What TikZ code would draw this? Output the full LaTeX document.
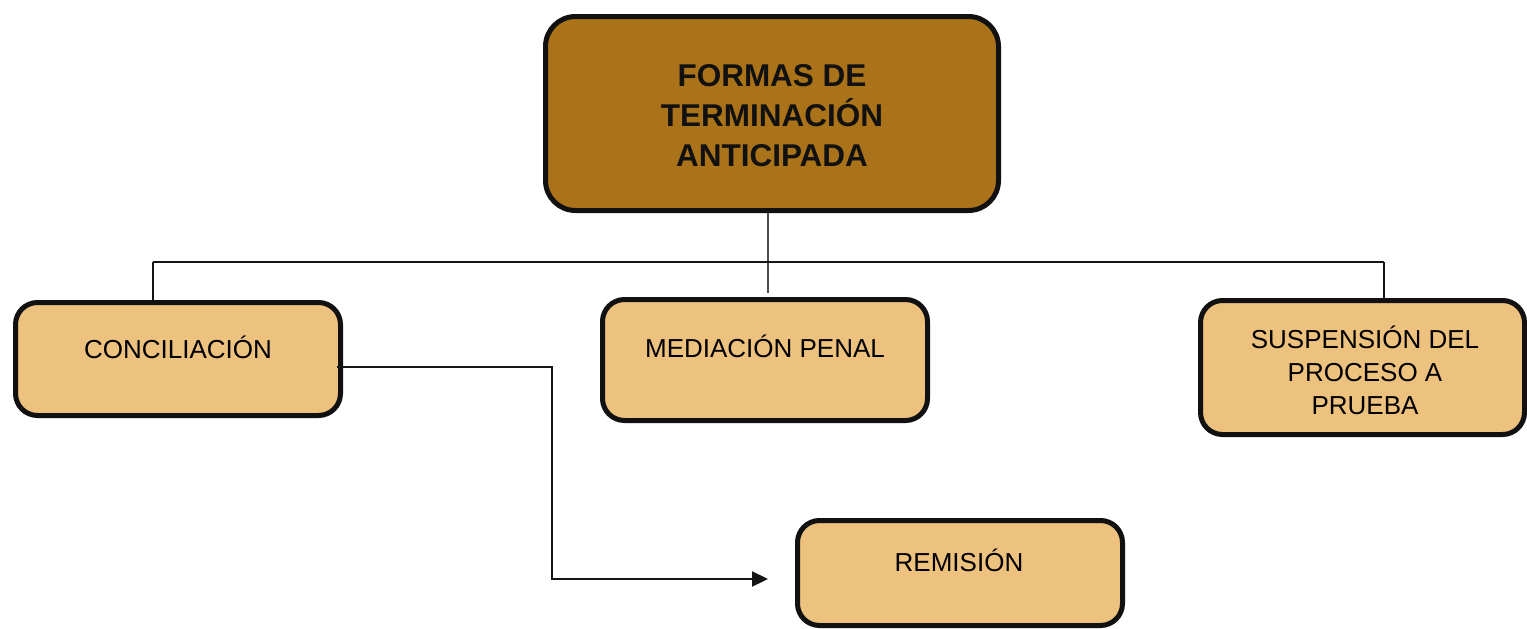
\documentclass[tikz,border=0pt]{standalone}
\usepackage{fontspec}
\setmainfont{Liberation Sans}
\usetikzlibrary{arrows.meta,calc}
\definecolor{titlefill}{HTML}{AA7219}
\definecolor{subfill}{HTML}{EDC17E}
\definecolor{edge}{HTML}{111111}
\definecolor{connc}{HTML}{151515}
\tikzset{
  box/.style={draw=edge, line width=5pt, rounded corners=22pt, rectangle, inner sep=0pt},
  titlebox/.style={box, fill=titlefill, rounded corners=30pt},
  subbox/.style={box, fill=subfill},
  titletext/.style={align=center, font=\fontsize{31.5}{40}\selectfont\bfseries, text=edge, inner sep=0pt},
  subtext/.style={align=center, font=\fontsize{26}{33}\selectfont, text=black, inner sep=0pt},
  conn/.style={draw=connc, line width=2.3pt},
  arr/.style={conn, -{Triangle[length=16pt,width=15pt]}}
}
\begin{document}
\begin{tikzpicture}[x=1pt,y=-1pt]
\useasboundingbox (0,0) rectangle (1527,629);
% boxes
\node[titlebox, minimum width=453pt, minimum height=194pt] (title) at (772,113.5) {};
\node[titletext] (titlet) at (772,116) {FORMAS DE\\TERMINACIÓN\\ANTICIPADA};
\node[subbox, minimum width=325pt, minimum height=113pt] (conc) at (178,359) {};
\node[subtext, anchor=base] (conct) at (178,358) {CONCILIACIÓN};
\node[subbox, minimum width=325pt, minimum height=121pt] (med) at (765,360) {};
\node[subtext, anchor=base] (medt) at (765,357.5) {MEDIACIÓN PENAL};
\node[subbox, minimum width=324pt, minimum height=134pt] (susp) at (1362.5,367.5) {};
\node[subtext] (suspt) at (1365,370) {SUSPENSIÓN DEL\\PROCESO A\\PRUEBA};
\node[subbox, minimum width=325pt, minimum height=105pt] (rem) at (960,573) {};
\node[subtext, anchor=base] (remt) at (959,571.5) {REMISIÓN};
% connectors
\coordinate (tj) at (768,293);
\coordinate (hl) at (153,262);
\coordinate (hr) at (1384,262);
\draw[conn, draw=black!70, line width=1.8pt] (title.south -| tj) -- (tj);
\draw[conn] (hl) -- (hr);
\draw[conn] (hl) -- (hl |- conc.north);
\draw[conn] (hr) -- (hr |- susp.north);
\coordinate (a0) at (337,367);
\coordinate (a1) at (552,367);
\coordinate (a2) at (552,579);
\coordinate (a3) at (768,579);
\draw[arr] (a0) -- (a1) -- (a2) -- (a3);
\end{tikzpicture}
\end{document}
